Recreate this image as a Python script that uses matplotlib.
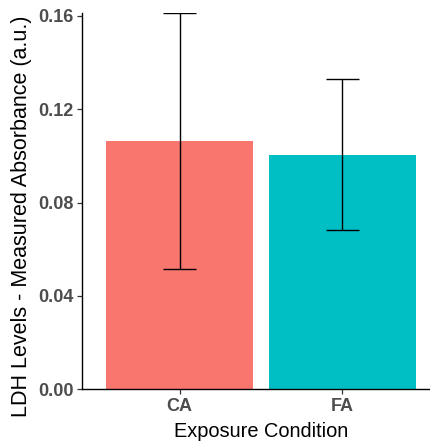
import numpy as np
import matplotlib.pyplot as plt

conditions = ['CA', 'FA']
means = [0.1063, 0.1004]
lower = [0.0514, 0.0681]
upper = [0.1612, 0.1329]
colors = ['#F8766D', '#00BFC4']

plt.rcParams['font.family'] = ['Liberation Sans', 'DejaVu Sans']

fig = plt.figure(figsize=(4.31, 4.42), dpi=100)
ax = fig.add_axes([0.1903, 0.1192, 0.8306, 0.8514])

x = np.arange(1, len(conditions) + 1)
ax.bar(x, means, width=0.9, color=colors, zorder=1)

# error bars with caps 0.2 wide
ax.vlines(x, lower, upper, color='black', lw=1.0, zorder=2)
ax.hlines(lower, x - 0.1, x + 0.1, color='black', lw=1.0, zorder=2)
ax.hlines(upper, x - 0.1, x + 0.1, color='black', lw=1.0, zorder=2)

ax.set_xlim(0.4, 2.6)
ax.set_ylim(0, max(upper))
ax.set_xticks(x)
ax.set_xticklabels(conditions)
ax.set_yticks([0.00, 0.04, 0.08, 0.12, 0.16])
ax.set_yticklabels(['0.00', '0.04', '0.08', '0.12', '0.16'])

for s in ['top', 'right']:
    ax.spines[s].set_visible(False)
for s in ['left', 'bottom']:
    ax.spines[s].set_linewidth(1.0)
    ax.spines[s].set_color('black')

ax.tick_params(axis='both', length=3.5, width=0.9, color='#333333', pad=2.5,
               labelsize=13, labelcolor='#4D4D4D')
for lab in ax.get_xticklabels() + ax.get_yticklabels():
    lab.set_fontweight('bold')

ax.set_xlabel('Exposure Condition', fontsize=14.4, labelpad=5)
ax.set_ylabel('LDH Levels - Measured Absorbance (a.u.)', fontsize=15.5)
ax.yaxis.set_label_coords(-0.14, 0.46)

fig.savefig('out.png', dpi=100)
